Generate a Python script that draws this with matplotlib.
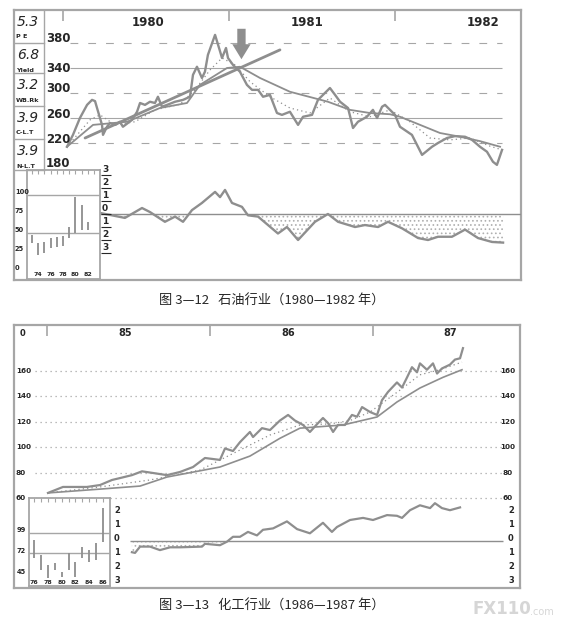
import matplotlib.pyplot as plt
from matplotlib.lines import Line2D

plt.rcParams['font.family'] = ['DejaVu Sans']
plt.rcParams['hatch.linewidth'] = 0.7

W, H = 563, 628
GRAY = '#8e8e8e'
LIGHT = '#a6a6a6'
INK = '#262626'
CJK = ['Noto Sans CJK SC', 'DejaVu Sans']

# ---------------- fig 3-12 : oil industry 1980-1982 ----------------
oil_years = ['1980', '1981', '1982']
oil_scale = ['380', '340', '300', '260', '220', '180']
oil_grid_solid = [340, 260]
oil_grid_dash = [380, 300, 220]

# years after 1980.0 / price index
oil_t = [0.024, 0.060, 0.102, 0.145, 0.175, 0.193, 0.205, 0.235, 0.241, 0.265,
         0.283, 0.313, 0.343, 0.361, 0.416, 0.446, 0.464, 0.494, 0.524, 0.554,
         0.572, 0.596, 0.627, 0.675, 0.723, 0.765, 0.783, 0.807, 0.837, 0.855,
         0.873, 0.916, 0.940, 0.958, 0.982, 0.994, 1.024, 1.066, 1.108, 1.139,
         1.175, 1.205, 1.247, 1.289, 1.319, 1.367, 1.416, 1.446, 1.500, 1.536,
         1.608, 1.639, 1.669, 1.717, 1.747, 1.777, 1.831, 1.867, 1.892, 1.922,
         1.940, 2.000, 2.030, 2.102, 2.163, 2.223, 2.259, 2.313, 2.361, 2.422,
         2.464, 2.512, 2.554, 2.590, 2.614, 2.645]
oil_price = [214, 233, 260, 281, 289, 287, 276, 249, 233, 246,
             252, 249, 254, 246, 257, 270, 284, 281, 286, 284,
             294, 278, 281, 286, 289, 294, 329, 342, 324, 334,
             361, 393, 372, 356, 372, 356, 345, 334, 313, 305,
             305, 294, 297, 268, 265, 270, 249, 262, 265, 289,
             308, 297, 286, 276, 244, 254, 262, 273, 260, 278,
             281, 265, 246, 233, 201, 214, 220, 228, 231, 230,
             225, 214, 206, 190, 185, 209]
oil_ma_t = [0.024, 0.181, 0.386, 0.584, 0.747, 0.825, 0.988, 1.066, 1.187, 1.367,
            1.596, 1.729, 1.849, 1.970, 2.030, 2.151, 2.271, 2.392, 2.512, 2.633]
oil_ma = [214, 249, 254, 276, 284, 313, 340, 342, 324, 302,
          286, 273, 268, 266, 262, 249, 236, 230, 223, 214]
oil_fast_t = [0.024, 0.163, 0.223, 0.313, 0.434, 0.554, 0.705, 0.795, 0.886, 0.958,
              1.036, 1.127, 1.247, 1.367, 1.488, 1.608, 1.729, 1.849, 1.970, 2.090,
              2.211, 2.331, 2.452, 2.572, 2.645]
oil_fast = [214, 257, 265, 249, 254, 273, 282, 305, 337, 356,
            345, 318, 294, 276, 268, 292, 270, 262, 273, 254,
            228, 225, 228, 215, 209]
oil_trend_t = [0.133, 1.307]
oil_trend = [228, 369]

oil_osc_t = [0.223, 0.373, 0.476, 0.524, 0.614, 0.675, 0.723, 0.777, 0.837, 0.916,
             0.946, 0.976, 1.018, 1.078, 1.114, 1.175, 1.295, 1.349, 1.416, 1.518,
             1.596, 1.657, 1.759, 1.819, 1.898, 1.958, 2.042, 2.139, 2.199, 2.259,
             2.343, 2.422, 2.500, 2.584, 2.651]
oil_osc = [0.08, -0.3, 0.46, 0.15, -0.6, -0.2, -0.6, 0.3, 0.85, 1.7,
           1.3, 1.85, 0.85, 0.55, -0.1, -0.2, -1.5, -1.0, -2.0, -0.6,
           0.0, -0.6, -1.0, -0.85, -1.0, -0.6, -1.1, -1.85, -2.0, -1.75,
           -1.75, -1.2, -1.85, -2.15, -2.2]
osc_levels = [3, 2, 1, 0, -1, -2, -3]
osc_labels = ['3', '2', '1', '0', '1', '2', '3']

oil_side_vals = ['5.3', '6.8', '3.2', '3.9', '3.9']
oil_side_names = ['P E', 'Yield', 'WB.Rk', 'C-L.T', 'N-L.T']

oil_inset_years = [1973, 1974, 1975, 1976, 1977, 1978, 1979, 1980, 1981, 1982]
oil_inset_low = [33, 17, 20, 26, 28, 29, 39, 46, 50, 50]
oil_inset_high = [43, 33, 34, 39, 41, 42, 54, 93, 83, 60]
oil_inset_lines = [96, 46]
oil_inset_scale = ['100', '75', '50', '25', '0']
oil_inset_xlab = ['74', '76', '78', '80', '82']

# ---------------- fig 3-13 : chemicals 1986-1987 ----------------
chem_years = ['85', '86', '87']
chem_scale = [160, 140, 120, 100, 80, 60]

chem_t = [0.006, 0.098, 0.245, 0.325, 0.399, 0.448, 0.521, 0.583, 0.650, 0.736,
          0.816, 0.896, 0.969, 1.061, 1.092, 1.141, 1.184, 1.245, 1.264, 1.319,
          1.368, 1.429, 1.479, 1.521, 1.571, 1.613, 1.663, 1.693, 1.724, 1.755,
          1.785, 1.828, 1.871, 1.902, 1.933, 1.982, 2.025, 2.055, 2.092, 2.147,
          2.178, 2.209, 2.239, 2.270, 2.288, 2.331, 2.368, 2.393, 2.423, 2.472,
          2.503, 2.534, 2.552]
chem_price = [64, 68.7, 68.7, 70.2, 74.2, 75.7, 78, 81, 79.7, 78,
              80.5, 84.4, 91.5, 90, 99, 97, 104, 112, 108, 115,
              113.5, 121, 125.4, 121, 117.5, 112, 119, 123, 119, 112,
              117.5, 117.5, 125.4, 124, 131.6, 127.7, 125.4, 137, 143.5, 151,
              147, 155, 163, 159, 166, 161, 166, 158, 162, 165,
              169, 170, 178]
chem_ma_t = [0.006, 0.325, 0.571, 0.736, 1.061, 1.245, 1.429, 1.552, 1.816, 2.025,
             2.147, 2.288, 2.429, 2.546]
chem_ma = [64, 67, 69.4, 76.5, 84.4, 93, 107, 115, 117.5, 123.8,
           135.6, 146.6, 155, 161]
chem_fast_t = [0.006, 0.325, 0.632, 0.939, 1.184, 1.368, 1.552, 1.736, 1.859, 1.982,
               2.166, 2.288, 2.411, 2.546]
chem_fast = [64, 68.7, 74.2, 82, 97.8, 109.6, 117.5, 118.3, 121, 127.7,
             145, 157, 161, 167]
chem_osc_t = [0.521, 0.540, 0.571, 0.632, 0.693, 0.755, 0.816, 0.951, 0.969, 1.061,
              1.104, 1.141, 1.184, 1.233, 1.288, 1.325, 1.387, 1.472, 1.534, 1.613,
              1.693, 1.748, 1.779, 1.859, 1.939, 2.000, 2.086, 2.147, 2.178, 2.227,
              2.288, 2.350, 2.380, 2.423, 2.472, 2.534]
chem_osc = [-0.8, -0.85, -0.4, -0.4, -0.65, -0.45, -0.45, -0.4, -0.2, -0.3,
            -0.05, 0.3, 0.3, 0.65, 0.4, 0.8, 0.9, 1.4, 0.85, 0.55,
            1.3, 0.65, 1.0, 1.5, 1.65, 1.5, 1.85, 1.8, 1.65, 2.2,
            2.55, 2.35, 2.7, 2.35, 2.2, 2.4]
chem_osc_levels = [2, 1, 0, -1, -2, -3]
chem_osc_labels = ['2', '1', '0', '1', '2', '3']

chem_inset_years = [1976, 1977, 1978, 1979, 1980, 1981, 1982, 1983, 1984, 1985, 1986]
chem_inset_low = [63, 48, 37, 48, 39, 48, 39, 63, 58, 60, 84]
chem_inset_high = [86, 67, 54, 57, 45, 69.5, 58, 77, 73, 82, 127]
chem_inset_lines = [95, 69.5]
chem_inset_scale = [99, 72, 45]
chem_inset_xlab = ['76', '78', '80', '82', '84', '86']


# ---------------- layout helpers (pixel -> figure) ----------------
fig = plt.figure(figsize=(W / 100, H / 100), dpi=100)
fig.patch.set_facecolor('white')


def box(x0, y0, x1, y1):
    return [x0 / W, 1 - y1 / H, (x1 - x0) / W, (y1 - y0) / H]


def ftxt(x, y, s, **kw):
    kw.setdefault('color', INK)
    kw.setdefault('va', 'center')
    fig.text(x / W, 1 - y / H, s, **kw)


def fline(x0, y0, x1, y1, **kw):
    kw.setdefault('color', LIGHT)
    kw.setdefault('lw', 1.0)
    fig.add_artist(Line2D([x0 / W, x1 / W], [1 - y0 / H, 1 - y1 / H],
                          transform=fig.transFigure, **kw))


def clean(ax, lw=1.4):
    ax.set_xticks([])
    ax.set_yticks([])
    for s in ax.spines.values():
        s.set_color(LIGHT)
        s.set_linewidth(lw)


# ================= top chart =================
def o_t(x): return (x - 63) / 166
def o_p(y): return 340 + (68 - y) * 1.6
def o_o(y): return (214 - y) / 13


ax1 = fig.add_axes(box(14, 10, 521, 280))
ax1.set_xlim(o_t(14), o_t(521))
ax1.set_ylim(o_p(280), o_p(10))
clean(ax1, 1.6)
ax1.set_xticks([0, 1, 2])
ax1.set_xticklabels([])
ax1.tick_params(axis='x', top=True, bottom=False, direction='in', length=8,
                width=1.2, color=LIGHT)

ax1.hlines(oil_grid_solid, o_t(70), o_t(502), color=LIGHT, lw=0.8)
ax1.hlines(oil_grid_dash, o_t(70), o_t(502), color=LIGHT, lw=0.8,
           linestyles=(0, (7, 9)))
ax1.plot(oil_trend_t, oil_trend, color=GRAY, lw=2.0, solid_capstyle='round')
ax1.plot(oil_ma_t, oil_ma, color=GRAY, lw=1.3)
ax1.plot(oil_fast_t, oil_fast, color=GRAY, lw=0.9, ls=(0, (1, 2.5)))
ax1.plot(oil_t, oil_price, color=GRAY, lw=1.7, solid_joinstyle='round')
ax1.annotate('', xy=(1.075, o_p(62)), xytext=(1.075, o_p(26)),
             arrowprops=dict(arrowstyle='simple,head_length=0.9,head_width=1.1,tail_width=0.5',
                             color=GRAY, lw=0, mutation_scale=12))

ax1o = fig.add_axes(box(14, 10, 521, 280), facecolor='none')
ax1o.set_xlim(o_t(14), o_t(521))
ax1o.set_ylim(o_o(280), o_o(10))
ax1o.axis('off')
ax1o.hlines(0, o_t(100), o_t(521), color=GRAY, lw=1.0)
ax1o.fill_between(oil_osc_t, oil_osc, 0, where=[v < 0 for v in oil_osc],
                  interpolate=True, facecolor='none', edgecolor='#b0b0b0',
                  hatch='....', linewidth=0)
ax1o.plot(oil_osc_t, oil_osc, color=GRAY, lw=1.7)
ax1o.hlines(osc_levels, o_t(101), o_t(111), color=INK, lw=0.8)
for v, s in zip(osc_levels, osc_labels):
    ax1o.text(o_t(102), v + 0.05, s, fontsize=6.5, weight='bold', color=INK,
              va='bottom', ha='left')

for x, s in zip([148, 307, 483], oil_years):
    ftxt(x, 22, s, fontsize=8.5, weight='bold', ha='center')
for y, s in zip([39, 68, 89, 114, 140, 164], oil_scale):
    ftxt(46, y, s, fontsize=8.5, weight='bold', ha='left')

# side stat boxes
for yb in [43, 73, 106, 139, 170]:
    fline(14, yb, 44, yb)
fline(44, 10, 44, 170)
for i, (v, n) in enumerate(zip(oil_side_vals, oil_side_names)):
    top = [10, 43, 73, 106, 139][i]
    ftxt(17, top + 12, v, fontsize=10, ha='left', style='italic')
    ftxt(16, top + 27, n, fontsize=4.6, weight='bold', ha='left')

# historical inset
axi = fig.add_axes(box(27, 170, 100, 279))
axi.set_xlim(1972.19, 1983.97)
axi.set_ylim(-14.5, 129)
clean(axi, 1.3)
axi.set_xticks(range(1973, 1984))
axi.set_xticklabels([])
axi.tick_params(axis='x', top=True, bottom=False, direction='in', length=3,
                width=0.8, color=LIGHT)
axi.hlines(oil_inset_lines, 1972.19, 1983.97, color=LIGHT, lw=1.0)
axi.vlines(oil_inset_years, oil_inset_low, oil_inset_high, color=GRAY, lw=1.3)
for i, s in enumerate(oil_inset_xlab):
    axi.text(1974 + 2 * i, 0.015, s, transform=axi.get_xaxis_transform(),
             fontsize=4.5, weight='bold', ha='center', va='bottom', color=INK)
for y, s in zip([192, 211, 230, 249, 268], oil_inset_scale):
    ftxt(15, y, s, fontsize=4.8, weight='bold', ha='left')

ftxt(272, 301, '图 3—12   石油行业（1980—1982 年）', fontsize=9.5,
     ha='center', family=CJK)

# ================= bottom chart =================
def c_t(x): return (x - 47) / 163
def c_p(y): return 160 - (y - 371) * 20 / 25.4
def c_o(y): return (541 - y) / 14


ax2 = fig.add_axes(box(14, 325, 520, 588))
ax2.set_xlim(c_t(14), c_t(520))
ax2.set_ylim(c_p(588), c_p(325))
clean(ax2, 1.6)
ax2.set_xticks([0, 1, 2])
ax2.set_xticklabels([])
ax2.tick_params(axis='x', top=True, bottom=False, direction='in', length=8,
                width=1.2, color=LIGHT)
ax2.hlines(chem_scale, c_t(35), c_t(503), color=LIGHT, lw=0.9,
           linestyles=(0, (1, 3)))
ax2.plot(chem_ma_t, chem_ma, color=GRAY, lw=1.2)
ax2.plot(chem_fast_t, chem_fast, color=GRAY, lw=0.9, ls=(0, (1, 2.5)))
ax2.plot(chem_t, chem_price, color=GRAY, lw=1.6, solid_joinstyle='round')
for v in chem_scale:
    ax2.text(c_t(16), v, str(v), fontsize=5.2, weight='bold', color=INK,
             va='center', ha='left')
    ax2.text(c_t(508), v, str(v), fontsize=5.2, weight='bold', color=INK,
             va='center', ha='center')

ax2o = fig.add_axes(box(14, 325, 520, 588), facecolor='none')
ax2o.set_xlim(c_t(14), c_t(520))
ax2o.set_ylim(c_o(588), c_o(325))
ax2o.axis('off')
ax2o.hlines(0, c_t(130), c_t(503), color=GRAY, lw=1.0)
ax2o.fill_between(chem_osc_t, chem_osc, 0, where=[v < 0 for v in chem_osc],
                  interpolate=True, facecolor='none', edgecolor='#b0b0b0',
                  hatch='....', linewidth=0)
ax2o.plot(chem_osc_t, chem_osc, color=GRAY, lw=1.6)
for v, s in zip(chem_osc_levels, chem_osc_labels):
    ax2o.text(c_t(511), v + 0.15, s, fontsize=6, weight='bold', color=INK,
              va='center', ha='center')
    ax2o.text(c_t(117), v + 0.15, s, fontsize=6, weight='bold', color=INK,
              va='center', ha='center')

for x, s in zip([125, 288, 450], chem_years):
    ftxt(x, 333, s, fontsize=7, weight='bold', ha='center')
ftxt(22, 333, '0', fontsize=6, weight='bold', ha='center')

axj = fig.add_axes(box(29, 498, 110, 586))
axj.set_xlim(1975.28, 1987.0)
axj.set_ylim(27.0, 140.1)
clean(axj, 1.3)
axj.set_xticks(range(1976, 1987))
axj.set_xticklabels([])
axj.tick_params(axis='x', top=True, bottom=False, direction='in', length=3,
                width=0.8, color=LIGHT)
axj.hlines(chem_inset_lines, 1975.28, 1987.0, color=LIGHT, lw=1.0)
axj.vlines(chem_inset_years, chem_inset_low, chem_inset_high, color=GRAY, lw=1.3)
for i, s in enumerate(chem_inset_xlab):
    axj.text(1976 + 2 * i, 0.01, s, transform=axj.get_xaxis_transform(),
             fontsize=4.5, weight='bold', ha='center', va='bottom', color=INK)
for y, v in zip([530, 551, 572], chem_inset_scale):
    ftxt(17, y, str(v), fontsize=4.8, weight='bold', ha='left')

ftxt(272, 606, '图 3—13   化工行业（1986—1987 年）', fontsize=9.5,
     ha='center', family=CJK)

ftxt(472, 609, 'FX110', fontsize=12, weight='bold', color='#d6d6d6', ha='left')
ftxt(530, 612, '.com', fontsize=7, color='#d6d6d6', ha='left')

fig.savefig('out.png', dpi=100, facecolor='white')
